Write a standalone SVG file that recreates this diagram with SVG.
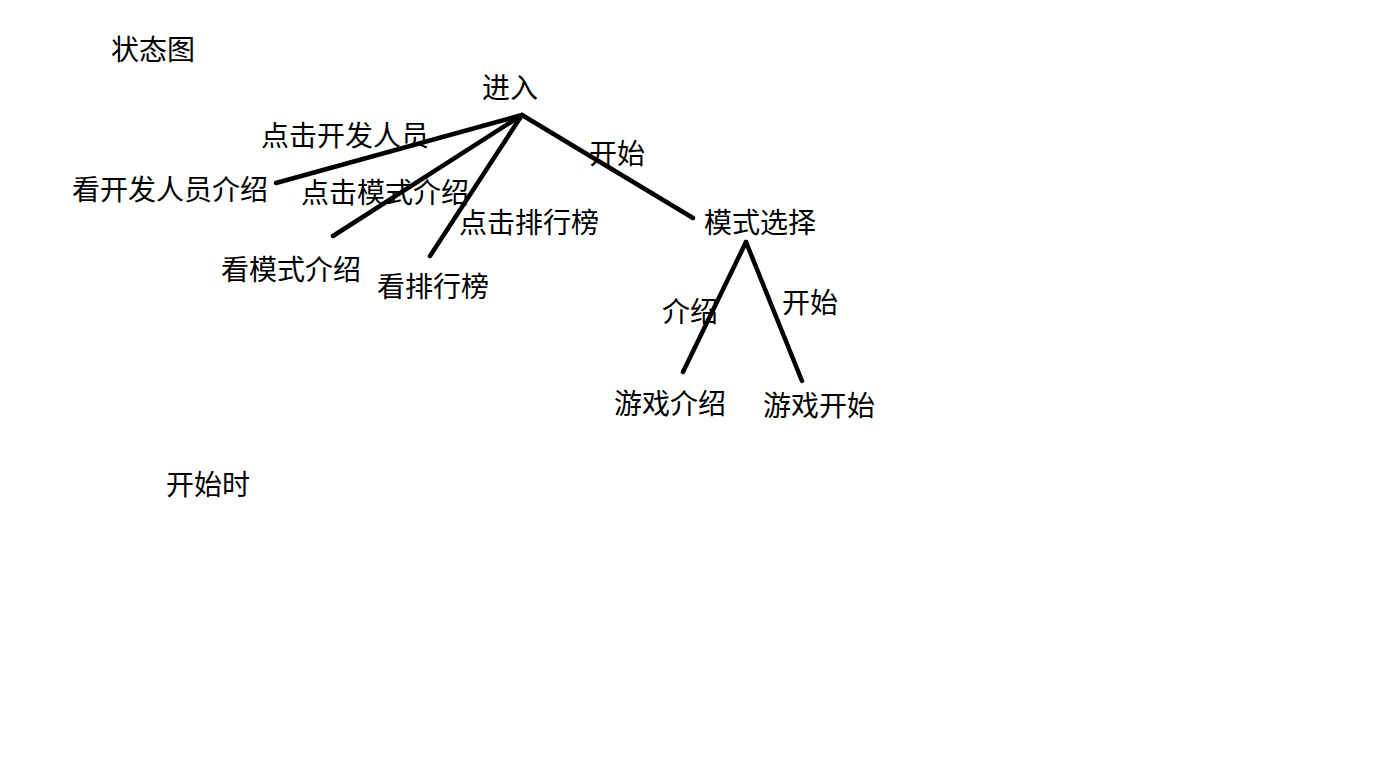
<svg xmlns="http://www.w3.org/2000/svg" width="1382" height="777" viewBox="0 0 1382 777">
<style>
text{font-family:"Noto Sans CJK SC","Noto Sans",sans-serif;font-size:28px;fill:#000}
.c line{stroke:#000;stroke-width:4.5;stroke-linecap:round}
</style>
<rect width="1382" height="777" fill="#fff"/>
<text x="111" y="60">状态图</text>
<text x="166" y="495">开始时</text>
<g class="c" id="connectors">
<line x1="276" y1="183" x2="522" y2="115"/>
<line x1="333" y1="236" x2="522" y2="115"/>
<line x1="430" y1="256" x2="522" y2="115"/>
<line x1="522" y1="115" x2="693" y2="218"/>
<line x1="746" y1="242" x2="683" y2="372"/>
<line x1="746" y1="242" x2="802" y2="381"/>
<text x="261" y="146">点击开发人员</text>
<text x="301" y="203">点击模式介绍</text>
<text x="459" y="233">点击排行榜</text>
<text x="589" y="164">开始</text>
<text x="662" y="322">介绍</text>
<text x="782" y="313">开始</text>
</g>
<g id="enter"><text x="482" y="98">进入</text></g>
<g id="devinfo"><text x="72" y="200">看开发人员介绍</text></g>
<g id="modeinfo"><text x="221" y="280">看模式介绍</text></g>
<g id="rank"><text x="377" y="297">看排行榜</text></g>
<g id="modesel"><text x="704" y="233">模式选择</text></g>
<g id="gameinfo"><text x="614" y="414">游戏介绍</text></g>
<g id="gamestart"><text x="763" y="416">游戏开始</text></g>
</svg>
